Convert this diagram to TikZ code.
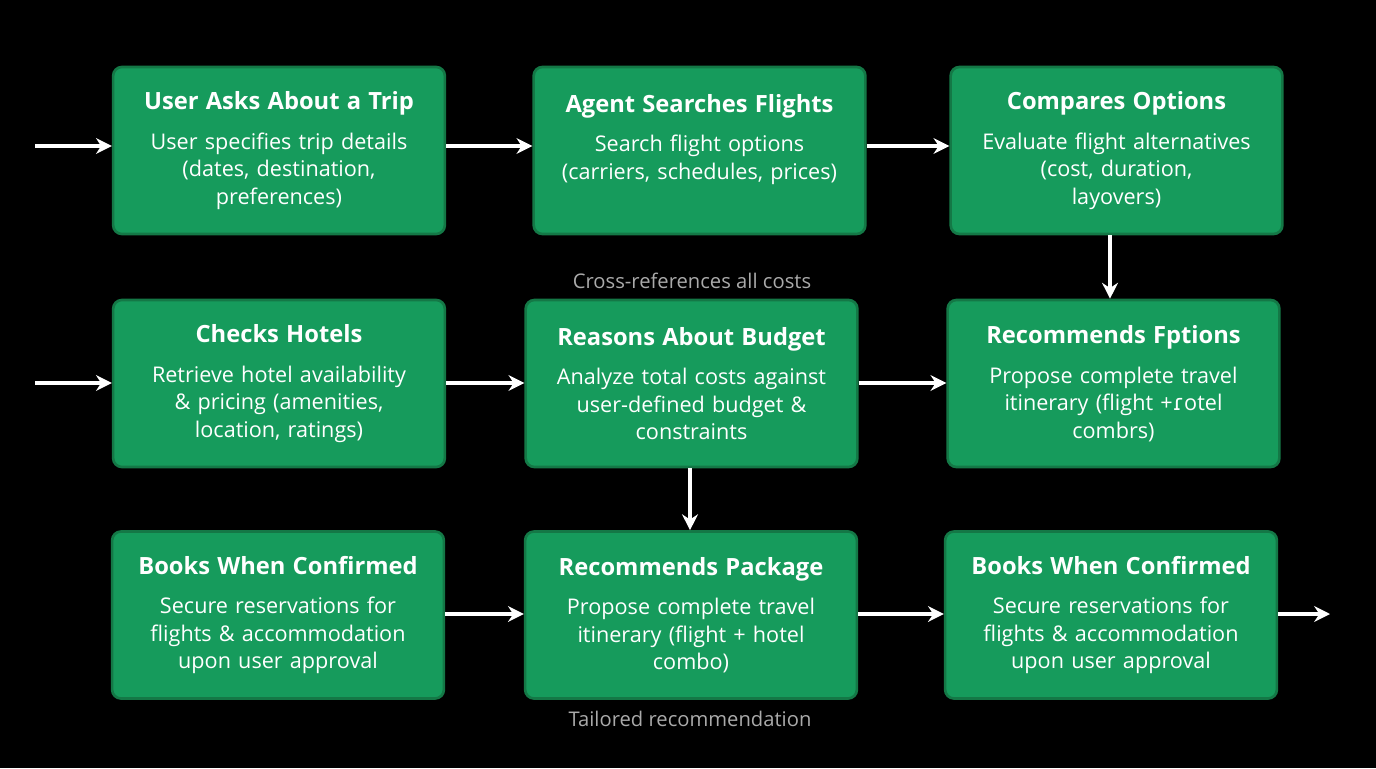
\documentclass[tikz,border=0pt]{standalone}
\usepackage{fontspec}
\setmainfont{Open Sans}
\newfontfamily\ipafont{DejaVu Sans}
\usetikzlibrary{positioning,arrows.meta}
\definecolor{boxgreen}{RGB}{22,155,92}
\definecolor{glow}{RGB}{20,120,70}
\definecolor{labelgrey}{RGB}{170,170,170}
\tikzset{
  stage/.style={fill=boxgreen, rounded corners=5pt, minimum width=6.56cm, minimum height=3.34cm,
    text width=6.4cm, align=center, text=white, font=\fontsize{12.3}{15.6}\selectfont,
    draw=glow, line width=1.5pt},
  flow/.style={-{Stealth[length=9pt,width=9pt]}, white, line width=2.4pt},
  note/.style={text=labelgrey, font=\fontsize{11.5}{14}\selectfont}
}
\newcommand{\stagetext}[2]{{\fontsize{13.5}{16}\selectfont\bfseries #1}\\[7pt]#2}
\begin{document}
\begin{tikzpicture}
    \fill[black] (0,0) rectangle (27.52,-15.36);
    \useasboundingbox (0,0) rectangle (27.52,-15.36);
    % row 1
    \node[stage] (ask) at (5.58,-3.01) {\stagetext{User Asks About a Trip}{User specifies trip details\\(dates, destination,\\preferences)}};
    \node[stage] (search) at (13.99,-3.01) {\stagetext{Agent Searches Flights}{Search flight options\\(carriers, schedules, prices)\\\mbox{}}};
    \node[stage] (compare) at (22.33,-3.01) {\stagetext{Compares Options}{Evaluate flight alternatives\\(cost, duration,\\layovers)}};
    % row 2
    \node[stage] (hotels) at (5.58,-7.67) {\stagetext{Checks Hotels}{Retrieve hotel availability\\\& pricing (amenities,\\location, ratings)}};
    \node[stage] (budget) at (13.83,-7.67) {\stagetext{Reasons About Budget}{Analyze total costs against\\user-defined budget \&\\constraints}};
    \node[stage] (recopt) at (22.27,-7.67) {\stagetext{Recommends Fptions}{Propose complete travel\\itinerary (flight +{\ipafont ɾ}otel\\combrs)}};
    % row 3
    \node[stage] (bookA) at (5.56,-12.30) {\stagetext{Books When Confirmed}{Secure reservations for\\flights \& accommodation\\upon user approval}};
    \node[stage] (package) at (13.82,-12.30) {\stagetext{Recommends Package}{Propose complete travel\\itinerary (flight + hotel\\combo)}};
    \node[stage] (bookB) at (22.22,-12.30) {\stagetext{Books When Confirmed}{Secure reservations for\\flights \& accommodation\\upon user approval}};
    % labels
    \node[note] (cross) at (13.84,-5.62) {Cross-references all costs};
    \node[note] (tailor) at (13.80,-14.38) {Tailored recommendation};
    % connectors
    \coordinate (in1) at (0.7,-2.92);
    \coordinate (in2) at (0.7,-7.66);
    \coordinate (out3) at (26.6,-12.28);
    \draw[flow] (in1) -- (in1 -| ask.west);
    \draw[flow] (ask.east |- in1) -- (search.west |- in1);
    \draw[flow] (search.east |- in1) -- (compare.west |- in1);
    \draw[flow] (compare.south) ++(-0.13,0) coordinate (c1) -- (c1 |- recopt.north);
    \draw[flow] (in2) -- (in2 -| hotels.west);
    \draw[flow] (hotels.east |- in2) -- (budget.west |- in2);
    \draw[flow] (budget.east |- in2) -- (recopt.west |- in2);
    \draw[flow] (budget.south) ++(-0.03,0) coordinate (c2) -- (c2 |- package.north);
    \draw[flow] (bookA.east |- out3) -- (package.west |- out3);
    \draw[flow] (package.east |- out3) -- (bookB.west |- out3);
    \draw[flow] (bookB.east |- out3) -- (out3);
\end{tikzpicture}
\end{document}
